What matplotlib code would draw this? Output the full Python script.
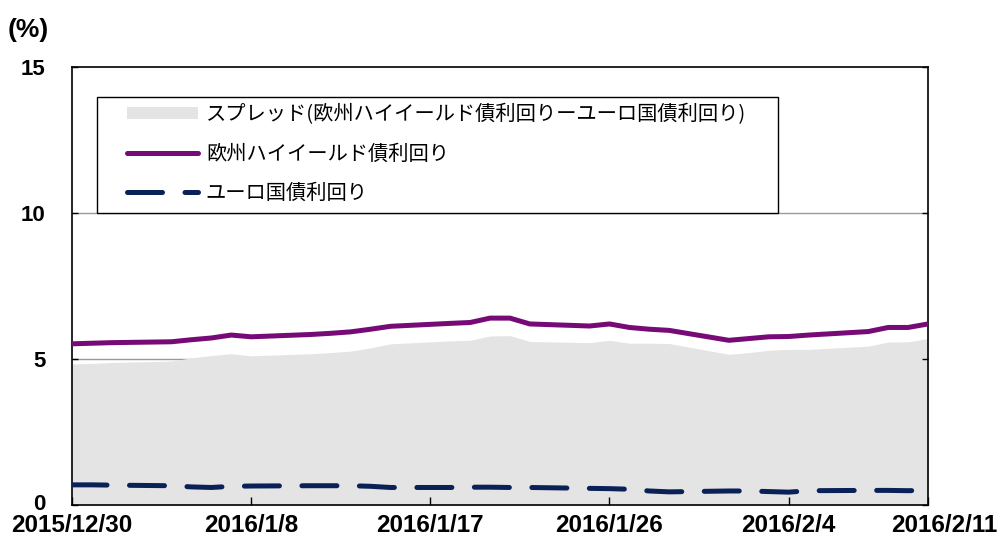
import datetime as dt
import numpy as np
import matplotlib
matplotlib.use("Agg")
import matplotlib.pyplot as plt
import matplotlib.transforms as mtransforms
from matplotlib.patches import Rectangle

#--------------------------------------
# data (business days)
dates = ["2015-12-30", "2015-12-31", "2016-01-01", "2016-01-04", "2016-01-05",
         "2016-01-06", "2016-01-07", "2016-01-08", "2016-01-11", "2016-01-12",
         "2016-01-13", "2016-01-14", "2016-01-15", "2016-01-18", "2016-01-19",
         "2016-01-20", "2016-01-21", "2016-01-22", "2016-01-25", "2016-01-26",
         "2016-01-27", "2016-01-28", "2016-01-29", "2016-02-01", "2016-02-02",
         "2016-02-03", "2016-02-04", "2016-02-05", "2016-02-08", "2016-02-09",
         "2016-02-10", "2016-02-11"]
hy_yield = [5.52, 5.54, 5.56, 5.59, 5.66, 5.72, 5.82, 5.76, 5.84, 5.88,
            5.93, 6.02, 6.12, 6.22, 6.25, 6.40, 6.40, 6.20, 6.13, 6.20,
            6.08, 6.02, 5.98, 5.64, 5.70, 5.76, 5.77, 5.82, 5.94, 6.08,
            6.08, 6.20]
gov_yield = [0.69, 0.69, 0.68, 0.66, 0.62, 0.60, 0.64, 0.65, 0.66, 0.66,
             0.66, 0.64, 0.60, 0.60, 0.61, 0.61, 0.60, 0.60, 0.57, 0.56,
             0.54, 0.48, 0.45, 0.48, 0.48, 0.46, 0.44, 0.49, 0.50, 0.50,
             0.49, 0.50]
tick_dates  = ["2015-12-30", "2016-01-08", "2016-01-17", "2016-01-26", "2016-02-04", "2016-02-11"]
tick_labels = ["2015/12/30", "2016/1/8", "2016/1/17", "2016/1/26", "2016/2/4", "2016/2/11"]
y_ticks     = [0, 5, 10, 15]
lbl_spread  = "スプレッド(欧州ハイイールド債利回りーユーロ国債利回り)"
lbl_hy      = "欧州ハイイールド債利回り"
lbl_gov     = "ユーロ国債利回り"
#--------------------------------------

x = [dt.datetime.strptime(d, "%Y-%m-%d") for d in dates]
xt = [dt.datetime.strptime(d, "%Y-%m-%d") for d in tick_dates]
spread = np.array(hy_yield) - np.array(gov_yield)

plt.rcParams['font.family'] = ['Noto Sans CJK JP', 'DejaVu Sans']

fig = plt.figure(figsize=(10.06, 5.43), dpi=100)
ax = fig.add_axes([72/1006, 38/543, 856/1006, 438/543])

for g in (5, 10):
    ax.axhline(g, color='#9a9a9a', lw=1.0, zorder=0)

ax.fill_between(x, 0, spread, color='#e4e4e4', lw=0, zorder=1, label=lbl_spread)
ax.plot(x, hy_yield, color='#760a76', lw=3.6, zorder=3, label=lbl_hy,
        solid_capstyle='round')
ax.plot(x, gov_yield, color='#0a2158', lw=3.6, zorder=3, label=lbl_gov,
        linestyle=(0, (7, 4.5)), dash_capstyle='round')

ax.set_xlim(x[0], x[-1])
ax.set_ylim(0, 15)
ax.set_yticks(y_ticks)
ax.set_yticklabels([str(v) for v in y_ticks], fontfamily='Liberation Sans',
                   fontweight='bold', fontsize=16)
ax.set_xticks(xt)
ax.set_xticklabels(tick_labels, fontfamily='Liberation Sans',
                   fontweight='bold', fontsize=17.5)
ax.tick_params(axis='y', direction='in', length=4, width=1, pad=19,
               left=True, right=True)
ax.tick_params(axis='x', direction='in', length=6, width=1, pad=6.5)
for s in ax.spines.values():
    s.set_color('black')
    s.set_linewidth(1.2)

# last date label sits a bit to the right in the original
lab = ax.get_xticklabels()[-1]
lab.set_transform(lab.get_transform() + mtransforms.ScaledTranslation(16/100, 0, fig.dpi_scale_trans))
# lift the "0" a little so it clears the first date
lab0 = ax.get_yticklabels()[0]
lab0.set_transform(lab0.get_transform() + mtransforms.ScaledTranslation(0, 3/100, fig.dpi_scale_trans))

# legend box drawn separately (Excel style wide frame)
ax.add_patch(Rectangle((0.029, 0.667), 0.796, 0.265, transform=ax.transAxes,
                       facecolor='white', edgecolor='black', lw=1.0, zorder=4))
leg = ax.legend(loc='upper left', bbox_to_anchor=(0.064, 0.915), borderaxespad=0,
                fontsize=14.6, frameon=False, handlelength=3.5, handletextpad=0.4,
                handleheight=0.55, labelspacing=0.9, borderpad=0)
leg.set_zorder(5)

fig.text(8/1006, 1-30/543, "(%)", fontfamily='Liberation Sans', fontweight='bold',
         fontsize=19, va='center', ha='left')

fig.savefig("out.png", dpi=100)
